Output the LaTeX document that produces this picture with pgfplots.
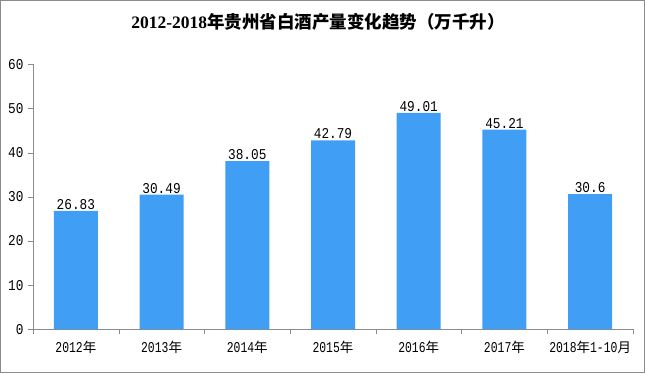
\documentclass[border=0pt]{standalone}
\usepackage{fontspec}
\usepackage{pgfplots}
\pgfplotsset{compat=1.18}
\setmainfont{Liberation Mono}
\newfontfamily\cjk{Noto Sans CJK SC}
\newfontfamily\numA[FakeStretch=0.85]{Liberation Mono}
\newfontfamily\numB[FakeStretch=0.76]{Liberation Mono}
\newfontfamily\titlenum{Liberation Serif}
\newcommand\cj[1]{{\cjk\fontsize{13.5}{14}\selectfont #1}}
\definecolor{barblue}{RGB}{64,158,245}
\definecolor{axisgray}{RGB}{140,140,140}
\begin{document}
\begin{tikzpicture}[x=1pt,y=1pt]
\draw[use as bounding box, draw=axisgray, line width=1pt] (0.5,0.5) rectangle (644.5,372.5);
\node[font=\fontsize{17.5}{19}\selectfont\bfseries] at (318,351) {{\titlenum 2012-2018}{\cjk 年贵州省白酒产量变化趋势（万千升）}};
\begin{axis}[
  at={(33pt,43.7pt)}, anchor=south west,
  scale only axis, width=600pt, height=265pt,
  xmin=-0.5, xmax=6.5, ymin=0, ymax=60,
  ytick={0,10,...,60},
  xtick={0,...,6},
  xticklabels={2012\cj{年},2013\cj{年},2014\cj{年},2015\cj{年},2016\cj{年},2017\cj{年},2018\cj{年}1-10\cj{月}},
  minor xtick={-0.5,0.5,...,6.5},
  major x tick style={draw=none},
  axis x line*=bottom, axis y line*=left,
  axis line style={axisgray,-},
  tick style={axisgray},
  tick align=outside,
  major tick length=5pt, minor tick length=5pt,
  /pgf/number format/assume math mode=true,
  yticklabel style={font=\numA\fontsize{15}{16}\selectfont, text=black, xshift=-1pt},
  xticklabel style={font=\numB\fontsize{15}{16}\selectfont, text=black, yshift=-3pt},
  ybar, bar width=44pt,
  nodes near coords,
  nodes near coords style={font=\numA\fontsize{15}{16}\selectfont, text=black, inner sep=1pt, yshift=0pt},
]
\addplot[fill=barblue, draw=none] coordinates {(0,26.83) (1,30.49) (2,38.05) (3,42.79) (4,49.01) (5,45.21) (6,30.6)};
\end{axis}
\end{tikzpicture}
\end{document}
